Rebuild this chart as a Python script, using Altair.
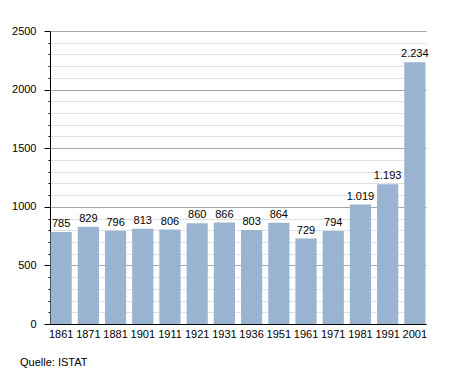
import altair as alt
import pandas as pd

years = ["1861", "1871", "1881", "1901", "1911", "1921", "1931", "1936",
         "1951", "1961", "1971", "1981", "1991", "2001"]
population = [785, 829, 796, 813, 806, 860, 866, 803, 864, 729, 794, 1019, 1193, 2234]

df = pd.DataFrame({
    "year": years,
    "pop": population,
    "label": [f"{v:,}".replace(",", ".") for v in population],
})

FONT = "Liberation Sans"
W, H = 376, 293

x = alt.X("year:O", sort=years, title=None,
          scale=alt.Scale(paddingInner=0.22, paddingOuter=0.02),
          axis=alt.Axis(labelAngle=0, ticks=False, domainColor="#000000",
                        labelFont=FONT, labelFontSize=11, labelColor="#000000",
                        labelPadding=4))

y = alt.Y("pop:Q", title=None,
          scale=alt.Scale(domain=[0, 2500], nice=False),
          axis=alt.Axis(values=list(range(0, 2501, 100)),
                        labelExpr="datum.value % 500 === 0 ? datum.value : ''",
                        labelOverlap=False,
                        gridColor={"condition": {"test": "datum.value % 500 === 0", "value": "#a6a6a6"}, "value": "#e0e0e0"},
                        gridOpacity=1,
                        tickSize={"condition": {"test": "datum.value % 500 === 0", "value": 6}, "value": 2},
                        tickColor="#000000", domainColor="#000000",
                        labelFont=FONT, labelFontSize=11, labelColor="#000000",
                        labelPadding=8, labelFlush=False))

bars = alt.Chart(df).mark_bar(color="#9ab3d0").encode(x=x, y=y)
text = alt.Chart(df).mark_text(dy=-8, font=FONT, fontSize=11, color="#000000").encode(
    x=x, y=y, text="label:N")

chart = (bars + text).properties(
    width=W, height=H,
    autosize=alt.AutoSizeParams(type="none"),
    padding={"left": 42, "top": 23, "right": 20, "bottom": 50},
    title=alt.TitleParams("Quelle: ISTAT", orient="bottom", anchor="start",
                          frame="group", dx=-30, offset=18, font=FONT, fontSize=11,
                          fontWeight="normal", color="#000000"),
).configure_view(stroke=None).configure_axis(domainWidth=1)

chart.save("out.html", embed_options={"renderer": "svg", "actions": False})
